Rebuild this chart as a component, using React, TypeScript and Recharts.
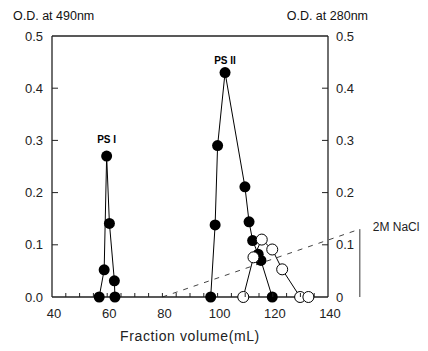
import { ComposedChart, Scatter, XAxis, YAxis, ReferenceLine, ReferenceDot } from 'recharts'

// fractions (mL) and absorbances
const ps1Volume = [57.1, 58.9, 59.8, 60.8, 62.6, 62.8]
const ps1OD490 = [0, 0.052, 0.27, 0.141, 0.031, 0]
const ps2Volume = [97.5, 99.1, 100.0, 102.7, 109.9, 111.4, 112.7, 114.7, 115.7, 119.8]
const ps2OD490 = [0, 0.138, 0.29, 0.43, 0.211, 0.144, 0.108, 0.082, 0.07, 0]
const od280Volume = [109.3, 113.0, 116.0, 119.8, 123.4, 129.9, 132.9]
const od280Values = [0, 0.076, 0.11, 0.091, 0.053, 0, 0]

// NaCl gradient (dashed) and its 2M scale bar
const naclVolume = [80, 151.5]
const naclLevel = [0, 0.13]

const xTicks = [40, 45, 50, 55, 60, 65, 70, 75, 80, 85, 90, 95, 100, 105, 110, 115, 120, 125, 130, 135, 140]
const yTicks = [0, 0.1, 0.2, 0.3, 0.4, 0.5]

const AXIS = '#222'
const FONT = 'Liberation Sans, Arial, sans-serif'

const toPoints = (xs: number[], ys: number[]) => xs.map((x, i) => ({ x, y: ys[i] }))

const ps1Data = toPoints(ps1Volume, ps1OD490)
const ps2Data = toPoints(ps2Volume, ps2OD490)
const od280Data = toPoints(od280Volume, od280Values)

const peakIndex = (ys: number[]) => ys.indexOf(Math.max(...ys))
const ps1Peak = peakIndex(ps1OD490)
const ps2Peak = peakIndex(ps2OD490)

const FilledDot = (p: any) => <circle cx={p.cx} cy={p.cy} r={5.5} fill="#000" />
const OpenDot = (p: any) => (
  <circle cx={p.cx} cy={p.cy} r={5.5} fill="#fff" stroke="#000" strokeWidth={1} />
)

function LeftTick({ x, y, payload }: any) {
  const v = payload.value
  const ax = x + 9
  return (
    <g>
      {v > 0 && v < 0.5 && <line x1={ax} x2={ax + 6} y1={y} y2={y} stroke={AXIS} />}
      <text x={x} y={y} textAnchor="end" dominantBaseline="central" fontSize={13} fontFamily={FONT} fill="#222">
        {v.toFixed(1)}
      </text>
    </g>
  )
}

function RightTick({ x, y, payload }: any) {
  const v = payload.value
  const ax = x - 8
  return (
    <g>
      {v > 0 && v < 0.5 && <line x1={ax} x2={ax - 6} y1={y} y2={y} stroke={AXIS} />}
      <text x={x} y={y} textAnchor="start" dominantBaseline="central" fontSize={13} fontFamily={FONT} fill="#222">
        {v === 0 ? '0' : v.toFixed(1)}
      </text>
    </g>
  )
}

function BottomTick({ x, y, payload }: any) {
  const v = payload.value
  return (
    <g>
      {v > 40 && v < 140 && <line x1={x} x2={x} y1={y} y2={y - 4} stroke={AXIS} />}
      {v % 20 === 0 && (
        <text x={x + 2} y={y + 21} textAnchor="middle" fontSize={13} fontFamily={FONT} fill="#222">
          {v}
        </text>
      )}
    </g>
  )
}

const NaclBar = (p: any) => (
  <g>
    <line x1={p.x1} y1={p.y1} x2={p.x2} y2={p.y2} stroke="#777" strokeWidth={1.5} />
    <text x={p.x1 + 13} y={Math.min(p.y1, p.y2) + 2} fontSize={12} fontFamily={FONT} fill="#222">
      2M NaCl
    </text>
  </g>
)

export default function App() {
  return (
    <div style={{ position: 'absolute', left: 0, top: 0, width: 428, height: 351, background: '#fff' }}>
      <ComposedChart width={428} height={351} margin={{ top: 36, right: 60, bottom: 24, left: 12 }}>
        <XAxis
          dataKey="x"
          type="number"
          domain={[40, 140]}
          ticks={xTicks}
          interval={0}
          tickSize={0}
          tickMargin={0}
          tickLine={false}
          tick={<BottomTick />}
          height={30}
          axisLine={{ stroke: AXIS, strokeWidth: 1.3 }}
        />
        <YAxis
          yAxisId="left"
          dataKey="y"
          type="number"
          domain={[0, 0.5]}
          ticks={yTicks}
          interval={0}
          tickSize={0}
          tickMargin={9}
          tickLine={false}
          tick={<LeftTick />}
          width={40}
          axisLine={{ stroke: AXIS, strokeWidth: 1.3 }}
        />
        <YAxis
          yAxisId="right"
          orientation="right"
          dataKey="y"
          type="number"
          domain={[0, 0.5]}
          ticks={yTicks}
          interval={0}
          tickSize={0}
          tickMargin={8}
          tickLine={false}
          tick={<RightTick />}
          width={40}
          axisLine={{ stroke: AXIS, strokeWidth: 1.3 }}
        />
        <ReferenceLine yAxisId="left" y={0.5} stroke={AXIS} strokeWidth={1.3} />
        <ReferenceLine
          yAxisId="left"
          ifOverflow="visible"
          segment={[
            { x: naclVolume[0], y: naclLevel[0] },
            { x: naclVolume[1], y: naclLevel[1] },
          ]}
          stroke="#444"
          strokeDasharray="5 6"
        />
        <ReferenceLine
          yAxisId="left"
          ifOverflow="visible"
          segment={[
            { x: naclVolume[1], y: 0 },
            { x: naclVolume[1], y: naclLevel[1] },
          ]}
          shape={NaclBar}
        />
        <Scatter
          yAxisId="left"
          data={ps1Data}
          line={{ stroke: '#000', strokeWidth: 1 }}
          shape={FilledDot}
          isAnimationActive={false}
        />
        <Scatter
          yAxisId="left"
          data={ps2Data}
          line={{ stroke: '#000', strokeWidth: 1 }}
          shape={FilledDot}
          isAnimationActive={false}
        />
        <Scatter
          yAxisId="right"
          data={od280Data}
          line={{ stroke: '#000', strokeWidth: 1 }}
          shape={OpenDot}
          isAnimationActive={false}
        />
        <ReferenceDot
          yAxisId="left"
          x={ps1Volume[ps1Peak]}
          y={ps1OD490[ps1Peak]}
          r={1}
          fill="none"
          stroke="none"
          label={{ value: 'PS I', position: 'top', offset: 12, fontSize: 10, fontWeight: 'bold', fontFamily: 'Liberation Sans Narrow, Liberation Sans, sans-serif', fill: '#000' }}
        />
        <ReferenceDot
          yAxisId="left"
          x={ps2Volume[ps2Peak]}
          y={ps2OD490[ps2Peak]}
          r={1}
          fill="none"
          stroke="none"
          label={{ value: 'PS II', position: 'top', offset: 8, fontSize: 10, fontWeight: 'bold', fontFamily: 'Liberation Sans Narrow, Liberation Sans, sans-serif', fill: '#000' }}
        />
      </ComposedChart>
      <svg width={428} height={351} style={{ position: 'absolute', left: 0, top: 0, pointerEvents: 'none' }}>
        <text x={13} y={20} fontSize={12.5} fontFamily={FONT} fill="#111">O.D. at 490nm</text>
        <text x={368} y={20} textAnchor="end" fontSize={12.5} fontFamily={FONT} fill="#111">O.D. at 280nm</text>
        <text x={190} y={341} textAnchor="middle" fontSize={14} letterSpacing={0.6} fontFamily={FONT} fill="#222">
          Fraction volume(mL)
        </text>
      </svg>
    </div>
  )
}
